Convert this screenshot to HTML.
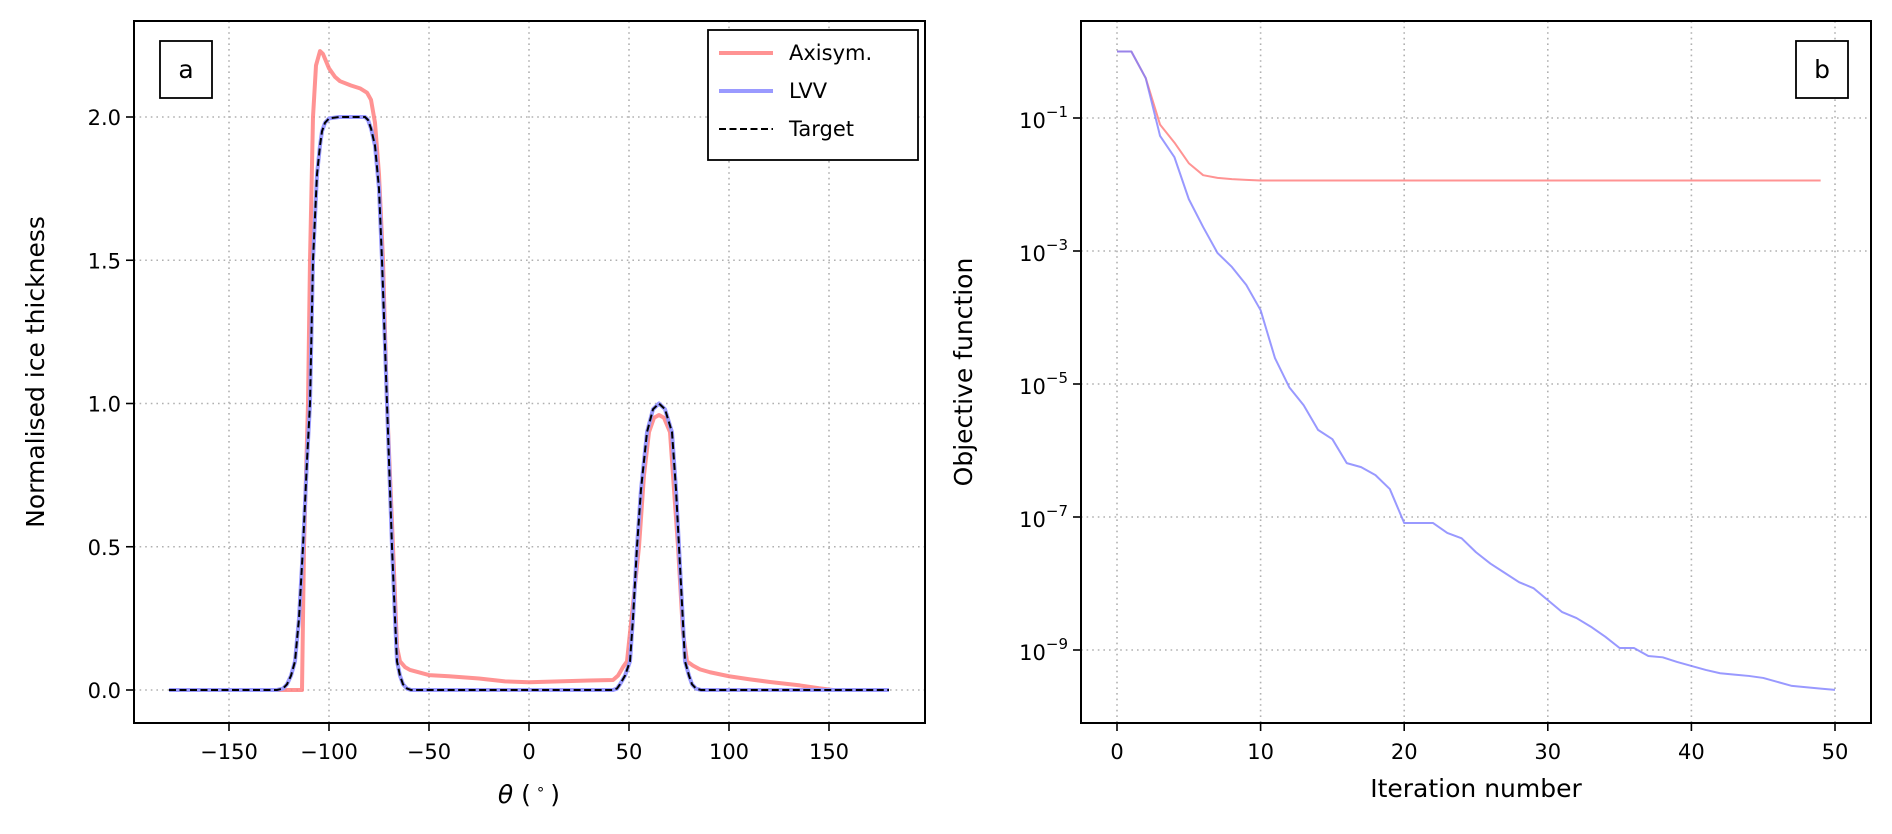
<!DOCTYPE html>
<html><head><meta charset="utf-8"><style>
html,body{margin:0;padding:0;background:#fff;}
svg{display:block;font-family:"DejaVu Sans","Liberation Sans",sans-serif;}
</style></head><body>
<svg id="fig" width="1892" height="834" viewBox="0 0 1892 834" xmlns="http://www.w3.org/2000/svg">
<g id="pa"></g>
<g id="pb"></g>
</svg>
<script>
// Panel a data
const targetTheta = [-180,-126,-123,-121,-119,-117,-115,-113,-111,-109.5,-108,-106,-104.5,-103.5,-102,-100,-95,-82,-80.5,-79,-77,-75,-73.5,-71,-68.5,-67,-66,-64.5,-63,-61,-59,42,44,45.5,48,50.5,52,54,56,59,62,65,68,71.5,73.5,75,76.5,78,80,81.5,83.5,86,180];
const targetVals = [0,0,0.005,0.02,0.05,0.1,0.25,0.5,0.8,1.0,1.5,1.8,1.9,1.95,1.98,1.995,2.0,2.0,1.99,1.96,1.9,1.75,1.5,1.0,0.5,0.25,0.1,0.05,0.02,0.005,0,0,0.005,0.02,0.05,0.1,0.25,0.5,0.7,0.9,0.98,1.0,0.98,0.9,0.7,0.5,0.3,0.1,0.05,0.02,0.005,0,0];
const axiTheta = [-180,-113.5,-112.5,-110.5,-109.5,-108,-106.5,-104.5,-103,-100,-97,-94.5,-89,-84.5,-81,-79,-77,-75,-73,-71,-68,-66,-64.5,-62,-59.5,-50,-40,-25,-12,0,15,30,42,44.5,47,49,52,55,57.5,60,62.5,65,67.5,70.5,72.5,74.5,77,79,82,85.5,90.5,100,110.5,120.5,135.5,145,152,180];
const axiVals = [0,0,0.5,1.0,1.5,2.0,2.18,2.23,2.22,2.17,2.14,2.125,2.11,2.10,2.085,2.06,1.98,1.8,1.5,1.0,0.5,0.15,0.1,0.08,0.07,0.052,0.048,0.04,0.03,0.027,0.03,0.033,0.035,0.05,0.08,0.1,0.3,0.5,0.75,0.9,0.95,0.96,0.95,0.9,0.7,0.5,0.2,0.1,0.085,0.072,0.062,0.048,0.037,0.028,0.016,0.006,0,0];
const aXTicks = [-150,-100,-50,0,50,100,150];
const aXTickLabels = ["\u2212150","\u2212100","\u221250","0","50","100","150"];
const aYTicks = [0,0.5,1.0,1.5,2.0];
const aYTickLabels = ["0.0","0.5","1.0","1.5","2.0"];
// Panel b data
const iterAxi = [0,1,2,3,4,5,6,7,8,9,10,11,12,13,14,15,16,17,18,19,20,21,22,23,24,25,26,27,28,29,30,31,32,33,34,35,36,37,38,39,40,41,42,43,44,45,46,47,48,49];
const logAxi = [0,0,-0.4,-1.1,-1.37,-1.68,-1.86,-1.9,-1.92,-1.93,-1.94,-1.94,-1.94,-1.94,-1.94,-1.94,-1.94,-1.94,-1.94,-1.94,-1.94,-1.94,-1.94,-1.94,-1.94,-1.94,-1.94,-1.94,-1.94,-1.94,-1.94,-1.94,-1.94,-1.94,-1.94,-1.94,-1.94,-1.94,-1.94,-1.94,-1.94,-1.94,-1.94,-1.94,-1.94,-1.94,-1.94,-1.94,-1.94,-1.94];
const iterLvv = [0,1,2,3,4,5,6,7,8,9,10,11,12,13,14,15,16,17,18,19,20,21,22,23,24,25,26,27,28,29,30,31,32,33,34,35,36,37,38,39,40,41,42,43,44,45,46,47,48,49,50];
const logLvv = [0,0,-0.4,-1.27,-1.59,-2.22,-2.64,-3.03,-3.24,-3.51,-3.89,-4.61,-5.05,-5.32,-5.69,-5.83,-6.19,-6.25,-6.37,-6.58,-7.09,-7.09,-7.09,-7.24,-7.32,-7.53,-7.7,-7.84,-7.98,-8.07,-8.25,-8.43,-8.52,-8.65,-8.8,-8.97,-8.97,-9.09,-9.11,-9.18,-9.24,-9.3,-9.35,-9.37,-9.39,-9.42,-9.48,-9.54,-9.56,-9.58,-9.6];
const bXTicks = [0,10,20,30,40,50];
const bYTicksExp = [-1,-3,-5,-7,-9];

const NS = "http://www.w3.org/2000/svg";
function mk(parent, tag, attrs, text){
  const e = document.createElementNS(NS, tag);
  for (const k in attrs) e.setAttribute(k, attrs[k]);
  if (text !== undefined) e.textContent = text;
  parent.appendChild(e);
  return e;
}
const A = {l:134, r:925, t:21, b:723};
const ax = t => 529 + 2.0 * t;
const ay = v => 690 - 286.5 * v;
const B = {l:1081, r:1871, t:21, b:723};
const bx = i => 1117 + 14.36 * i;
const by = lg => 118 - 66.5 * (lg + 1);

const pa = document.getElementById('pa');
const pb = document.getElementById('pb');

// ----- Panel a -----
aXTicks.forEach((t,i)=>{
  const g = mk(pa,'line',{x1:ax(t),x2:ax(t),y1:A.t,y2:A.b,stroke:'#b0b0b0','stroke-width':1.6,'stroke-dasharray':'1.6,4'});
  
  
  const tk = mk(pa,'line',{x1:ax(t),x2:ax(t),y1:A.b,y2:A.b+8,stroke:'#000','stroke-width':1.6});
  
  
  const lb = mk(pa,'text',{x:ax(t),y:A.b+36,'text-anchor':'middle','font-size':21},aXTickLabels[i]);
  
  
});
aYTicks.forEach((v,i)=>{
  const g = mk(pa,'line',{x1:A.l,x2:A.r,y1:ay(v),y2:ay(v),stroke:'#b0b0b0','stroke-width':1.6,'stroke-dasharray':'1.6,4'});
  
  
  const tk = mk(pa,'line',{x1:A.l-8,x2:A.l,y1:ay(v),y2:ay(v),stroke:'#000','stroke-width':1.6});
  
  
  const lb = mk(pa,'text',{x:A.l-13,y:ay(v)+8,'text-anchor':'end','font-size':21},aYTickLabels[i]);
  
  
});
function pts(xs, ys, fx, fy){ return xs.map((x,i)=>fx(x).toFixed(2)+','+fy(ys[i]).toFixed(2)).join(' '); }
const axiLine = mk(pa,'polyline',{points:pts(axiTheta,axiVals,ax,ay),fill:'none',stroke:'#ff8080','stroke-opacity':0.85,'stroke-width':4,'stroke-linejoin':'round'});


const lvvLine = mk(pa,'polyline',{points:pts(targetTheta,targetVals,ax,ay),fill:'none',stroke:'#9a9aff','stroke-width':4,'stroke-linejoin':'round'});


const tgtLine = mk(pa,'polyline',{points:pts(targetTheta,targetVals,ax,ay),fill:'none',stroke:'#000','stroke-width':2,'stroke-dasharray':'7,3.5'});


const fa = mk(pa,'rect',{x:A.l,y:A.t,width:A.r-A.l,height:A.b-A.t,fill:'none',stroke:'#000','stroke-width':2});


const xla = mk(pa,'text',{x:529,y:803,'text-anchor':'middle','font-size':25},'');


mk(xla,'tspan',{'font-style':'italic'},'\u03b8');
mk(xla,'tspan',{},' (\u2009');
mk(xla,'tspan',{'font-size':15,dy:-9},'\u2218');
mk(xla,'tspan',{dy:9},'\u2009)');
const yla = mk(pa,'text',{x:0,y:0,'text-anchor':'middle','font-size':25,transform:'translate(44,372) rotate(-90)'},'Normalised ice thickness');


const pla = mk(pa,'g',{});


mk(pla,'rect',{x:160,y:41,width:52,height:57,fill:'#fff',stroke:'#000','stroke-width':1.8});
mk(pla,'text',{x:186,y:78,'text-anchor':'middle','font-size':25},'a');
const leg = mk(pa,'g',{});


mk(leg,'rect',{x:708,y:30,width:210,height:130,fill:'#fff',stroke:'#000','stroke-width':1.8});
const le = [['Axisym.','#ff8080',4,null,0.85],['LVV','#9a9aff',4,null,1],['Target','#000',2,'7,3.5',1]];
le.forEach((d,i)=>{
  const y = 53 + i*38;
  const ent = mk(leg,'g',{});
  
  
  const at = {x1:719,x2:773,y1:y,y2:y,stroke:d[1],'stroke-width':d[2],'stroke-opacity':d[4]};
  if (d[3]) at['stroke-dasharray']=d[3];
  mk(ent,'line',at);
  mk(ent,'text',{x:789,y:y+7,'font-size':21},d[0]);
});

// ----- Panel b -----
bXTicks.forEach(t=>{
  const g = mk(pb,'line',{x1:bx(t),x2:bx(t),y1:B.t,y2:B.b,stroke:'#b0b0b0','stroke-width':1.6,'stroke-dasharray':'1.6,4'});
  
  
  const tk = mk(pb,'line',{x1:bx(t),x2:bx(t),y1:B.b,y2:B.b+8,stroke:'#000','stroke-width':1.6});
  
  
  const lb = mk(pb,'text',{x:bx(t),y:B.b+36,'text-anchor':'middle','font-size':21},String(t));
  
  
});
bYTicksExp.forEach(e=>{
  const g = mk(pb,'line',{x1:B.l,x2:B.r,y1:by(e),y2:by(e),stroke:'#b0b0b0','stroke-width':1.6,'stroke-dasharray':'1.6,4'});
  
  
  const tk = mk(pb,'line',{x1:B.l-8,x2:B.l,y1:by(e),y2:by(e),stroke:'#000','stroke-width':1.6});
  
  
  const lb = mk(pb,'text',{x:B.l-13,y:by(e)+10,'text-anchor':'end','font-size':21},'');
  
  
  mk(lb,'tspan',{},'10');
  mk(lb,'tspan',{'font-size':15,dy:-11},'\u2212'+Math.abs(e));
});
const bAxi = mk(pb,'polyline',{points:pts(iterAxi,logAxi,bx,by),fill:'none',stroke:'#ff8080','stroke-opacity':0.85,'stroke-width':2,'stroke-linejoin':'round'});


const bLvv = mk(pb,'polyline',{points:pts(iterLvv,logLvv,bx,by),fill:'none',stroke:'#8080ff','stroke-opacity':0.8,'stroke-width':2,'stroke-linejoin':'round'});


const fb = mk(pb,'rect',{x:B.l,y:B.t,width:B.r-B.l,height:B.b-B.t,fill:'none',stroke:'#000','stroke-width':2});


const xlb = mk(pb,'text',{x:1476,y:797,'text-anchor':'middle','font-size':25},'Iteration number');


const ylb = mk(pb,'text',{x:0,y:0,'text-anchor':'middle','font-size':25,transform:'translate(972,372) rotate(-90)'},'Objective function');


const plb = mk(pb,'g',{});


mk(plb,'rect',{x:1796,y:41,width:52,height:57,fill:'#fff',stroke:'#000','stroke-width':1.8});
mk(plb,'text',{x:1822,y:78,'text-anchor':'middle','font-size':25},'b');
</script>
</body></html>
